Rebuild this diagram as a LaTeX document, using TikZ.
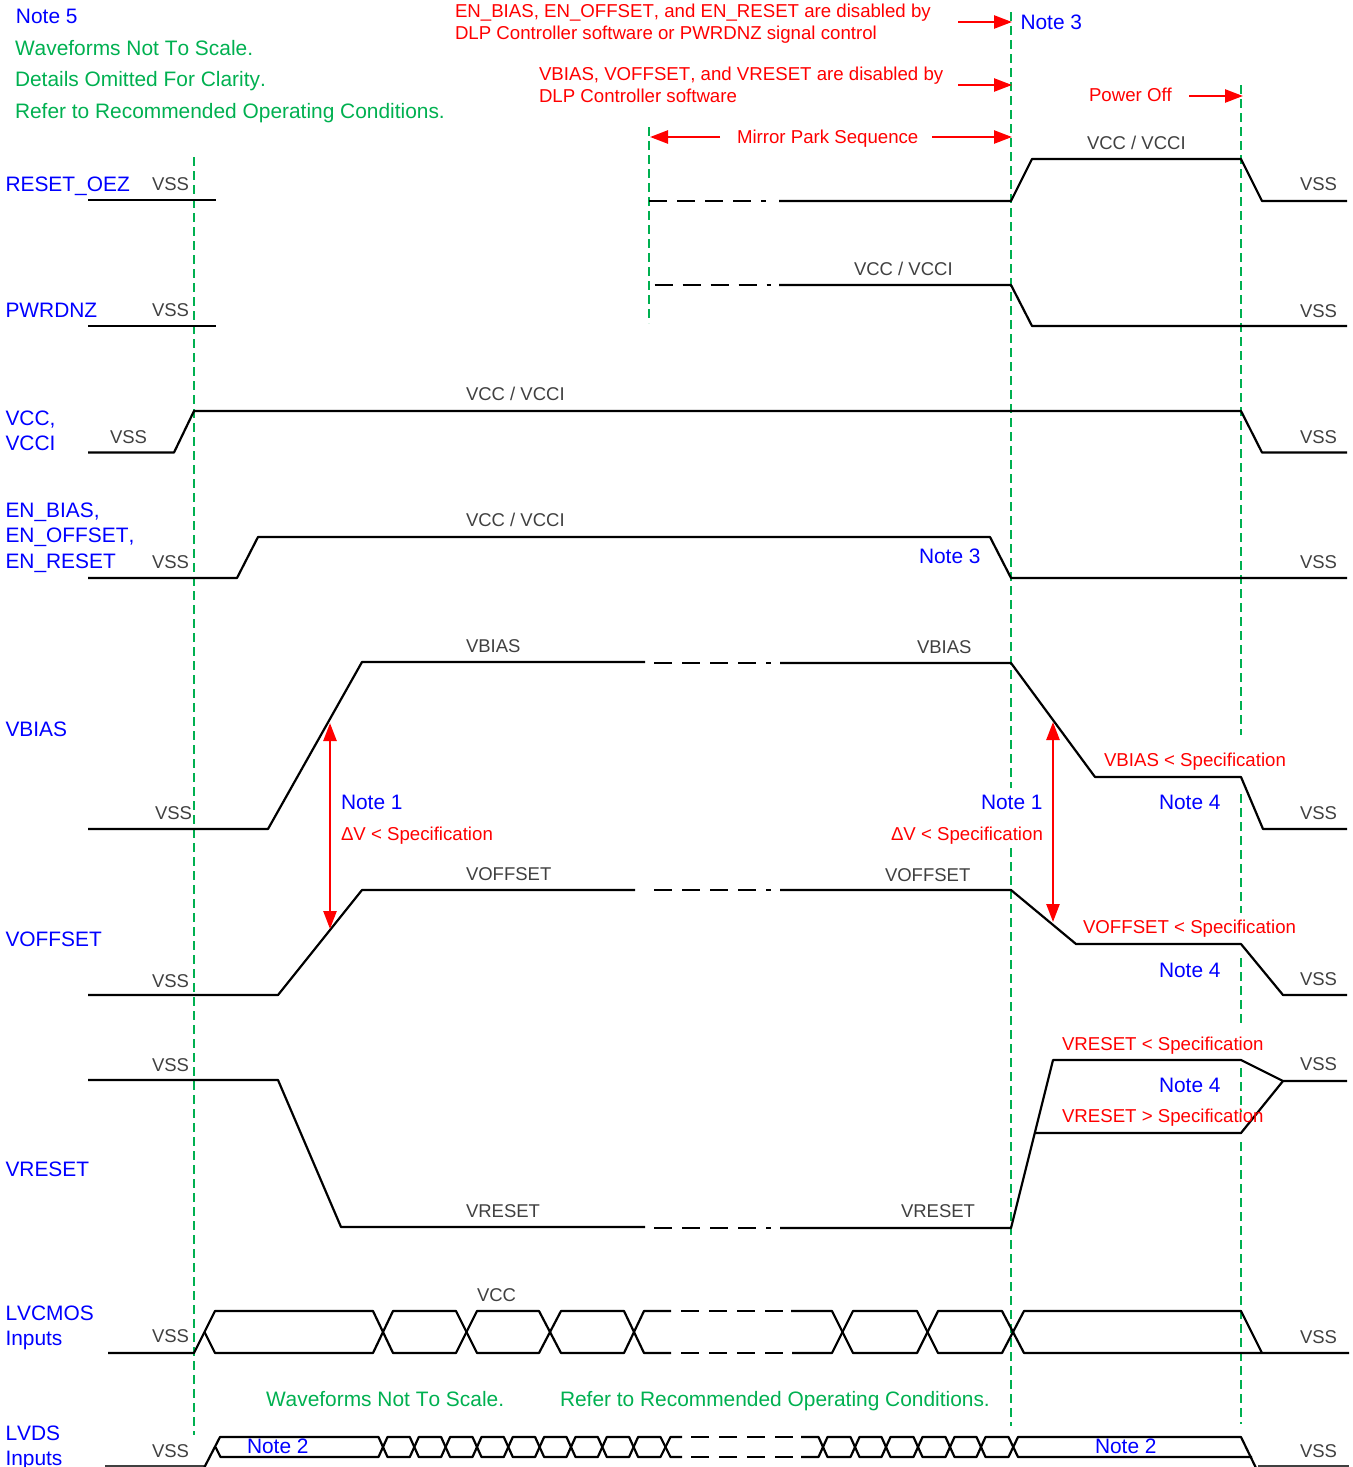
\documentclass[tikz,border=0pt]{standalone}
\usepackage{fontspec}
\setmainfont[Kerning=Off]{Liberation Sans}
\usetikzlibrary{arrows.meta}
\definecolor{tblue}{HTML}{0000FF}
\definecolor{tgreen}{HTML}{00B050}
\definecolor{tred}{HTML}{FF0000}
\definecolor{tgray}{HTML}{404040}
\tikzset{
  x=1pt,y=-1pt,
  lab/.style={anchor=base west,inner sep=0pt,outer sep=0pt},
  bluet/.style={lab,text=tblue,font=\fontsize{20.9}{24}\selectfont,yshift=-7.5pt},
  greent/.style={lab,text=tgreen,font=\fontsize{20.9}{24}\selectfont,yshift=-7.5pt},
  redt/.style={lab,text=tred,font=\fontsize{18.65}{22}\selectfont,yshift=-6.7pt},
  grayt/.style={lab,text=tgray,font=\fontsize{18.5}{22}\selectfont,yshift=-6.6pt},
  wave/.style={draw=black,line width=2.2pt,line join=round},
  wavedash/.style={wave,dash pattern=on 18.4pt off 9.6pt on 18.4pt off 9.6pt on 18.4pt off 9.6pt on 18.4pt off 9.6pt on 5pt off 200pt},
  cmosdash/.style={wave,dash pattern=on 18pt off 10pt},
  guide/.style={draw=tgreen,line width=2.3pt,dash pattern=on 9pt off 5pt},
  redarrow/.style={draw=tred,line width=2.5pt,-{Triangle[length=18pt,width=13pt]}},
  redboth/.style={draw=tred,line width=2.5pt,{Triangle[length=18pt,width=13pt]}-{Triangle[length=18pt,width=13pt]}},
}
\begin{document}
\begin{tikzpicture}
\useasboundingbox (0,0) rectangle (1352,1467);
\clip (0,0) rectangle (1352,1467);
% guide lines
\draw[guide] (194.3,157) -- (194.3,1435);
\draw[guide] (649.3,127) -- (649.3,323);
\draw[guide] (1011.3,12) -- (1011.3,788);
\draw[guide] (1011.3,848) -- (1011.3,1426);
\draw[guide] (1241.3,85) -- (1241.3,735);
\draw[guide] (1241.3,794) -- (1241.3,913);
\draw[guide] (1241.3,958) -- (1241.3,1023);
\draw[guide] (1241.3,1068) -- (1241.3,1112);
\draw[guide] (1241.3,1142) -- (1241.3,1424);
% RESET_OEZ
\draw[wave] (88,200) -- (216,200);
\draw[wavedash] (649,201) -- (766,201);
\draw[wave] (779,201) -- (1011,201) -- (1032,159) -- (1241,159) -- (1262,201) -- (1347,201);
% PWRDNZ
\draw[wave] (88,326) -- (216,326);
\draw[wavedash] (654.5,285) -- (771,285);
\draw[wave] (779,285) -- (1011,285) -- (1032,326) -- (1347,326);
% VCC
\draw[wave] (88,452.5) -- (174,452.5) -- (194,411) -- (1241,411) -- (1262,452.5) -- (1347,452.5);
% EN
\draw[wave] (88,578) -- (237,578) -- (258,537) -- (990,537) -- (1011,578) -- (1347,578);
% VBIAS
\draw[wave] (88,829) -- (268,829) -- (362,662) -- (645,662);
\draw[wavedash] (654,663) -- (771,663);
\draw[wave] (780,663) -- (1011,663) -- (1095,777) -- (1241,777) -- (1263,829) -- (1347,829);
% VOFFSET
\draw[wave] (88,995) -- (278,995) -- (362,890) -- (635,890);
\draw[wavedash] (654,890) -- (771,890);
\draw[wave] (780,890) -- (1011,890) -- (1076,944) -- (1241,944) -- (1283,995) -- (1347,995);
% VRESET
\draw[wave] (88,1080) -- (278,1080) -- (341,1227) -- (645,1227);
\draw[wavedash] (654,1228) -- (771,1228);
\draw[wave] (780,1228) -- (1011,1228) -- (1053,1060) -- (1241,1060) -- (1283,1081) -- (1347,1081);
\draw[wave] (1035,1133) -- (1241,1133) -- (1283,1081);
% LVCMOS
\draw[wave] (108,1353) -- (194,1353) -- (215,1311) -- (373,1311) -- (393,1353) -- (456,1353) -- (477,1311) -- (539,1311) -- (561,1353) -- (624,1353) -- (644,1311) -- (671,1311);
\draw[wave] (204.5,1332) -- (215,1353) -- (373,1353) -- (393,1311) -- (456,1311) -- (477,1353) -- (539,1353) -- (561,1311) -- (624,1311) -- (644,1353) -- (671,1353);
\draw[cmosdash] (681,1311) -- (783,1311);
\draw[cmosdash] (681,1353) -- (783,1353);
\draw[wave] (791,1311) -- (832,1311) -- (853,1353) -- (917,1353) -- (938,1311) -- (1002,1311) -- (1024,1353) -- (1262,1353) -- (1349,1353);
\draw[wave] (792,1353) -- (832,1353) -- (853,1311) -- (917,1311) -- (938,1353) -- (1002,1353) -- (1024,1311) -- (1241,1311) -- (1262,1353);
% LVDS
\draw[tgray,line width=1.2pt] (105,1466) -- (204,1466);
\draw[tgray,line width=1.2pt] (1258,1466) -- (1349,1466);
\draw[wave] (204,1468) -- (220,1437) -- (378.5,1437) -- (387.5,1457) -- (409.8,1457) -- (418.8,1437) -- (441.1,1437) -- (450.1,1457) -- (472.5,1457) -- (481.5,1437) -- (503.8,1437) -- (512.8,1457) -- (535.1,1457) -- (544.1,1437) -- (566.5,1437) -- (575.5,1457) -- (597.8,1457) -- (606.8,1437) -- (629.1,1437) -- (638.1,1457) -- (660.5,1457) -- (670.5,1437) -- (682,1437);
\draw[wave] (215.5,1447) -- (220.5,1457) -- (378.5,1457) -- (387.5,1437) -- (409.8,1437) -- (418.8,1457) -- (441.1,1457) -- (450.1,1437) -- (472.5,1437) -- (481.5,1457) -- (503.8,1457) -- (512.8,1437) -- (535.1,1437) -- (544.1,1457) -- (566.5,1457) -- (575.5,1437) -- (597.8,1437) -- (606.8,1457) -- (629.1,1457) -- (638.1,1437) -- (660.5,1437) -- (670.5,1457) -- (682,1457);
\draw[cmosdash] (691,1437) -- (793,1437);
\draw[cmosdash] (691,1457) -- (793,1457);
\draw[wave] (801,1437) -- (818.5,1437) -- (827.5,1457) -- (850.5,1457) -- (859.5,1437) -- (881.5,1437) -- (890.5,1457) -- (913.5,1457) -- (922.5,1437) -- (945.5,1437) -- (954.5,1457) -- (976.5,1457) -- (985.5,1437) -- (1008.5,1437) -- (1018,1457) -- (1252,1457);
\draw[wave] (801,1457) -- (818.5,1457) -- (827.5,1437) -- (850.5,1437) -- (859.5,1457) -- (881.5,1457) -- (890.5,1437) -- (913.5,1437) -- (922.5,1457) -- (945.5,1457) -- (954.5,1437) -- (976.5,1437) -- (985.5,1457) -- (1008.5,1457) -- (1018,1437) -- (1241,1437) -- (1256,1468);
% arrow ends
\coordinate (a1s) at (958,22); \coordinate (a1e) at (1012,22);
\coordinate (a2s) at (958,85); \coordinate (a2e) at (1012,85);
\coordinate (a3s) at (1189,96); \coordinate (a3e) at (1243,96);
\coordinate (a4s) at (720,137); \coordinate (a4e) at (650,137);
\coordinate (a5s) at (932,137); \coordinate (a5e) at (1012,137);
\coordinate (a6s) at (330,723); \coordinate (a6e) at (330,929);
\coordinate (a7s) at (1053,722); \coordinate (a7e) at (1053,922);
\draw[redarrow] (a1s) -- (a1e);
\draw[redarrow] (a2s) -- (a2e);
\draw[redarrow] (a3s) -- (a3e);
\draw[redarrow] (a4s) -- (a4e);
\draw[redarrow] (a5s) -- (a5e);
\draw[redboth] (a6s) -- (a6e);
\draw[redboth] (a7s) -- (a7e);
% blue labels
\node[bluet] (n5) at (16,16) {Note 5};
\node[bluet] (n3a) at (1020.5,22) {Note 3};
\node[bluet] (s1) at (5.5,184) {RESET\_OEZ};
\node[bluet] (s2) at (5.5,310) {PWRDNZ};
\node[bluet] (s3a) at (5.5,418) {VCC,};
\node[bluet] (s3b) at (5.5,443) {VCCI};
\node[bluet] (s4a) at (5.5,510) {EN\_BIAS,};
\node[bluet] (s4b) at (5.5,535) {EN\_OFFSET,};
\node[bluet] (s4c) at (5.5,561) {EN\_RESET};
\node[bluet] (n3b) at (919,556) {Note 3};
\node[bluet] (s5) at (5.5,729) {VBIAS};
\node[bluet] (n1a) at (341,802) {Note 1};
\node[bluet] (n1b) at (981,802) {Note 1};
\node[bluet] (n4a) at (1159,802) {Note 4};
\node[bluet] (s6) at (5.5,939) {VOFFSET};
\node[bluet] (n4b) at (1159,970) {Note 4};
\node[bluet] (n4c) at (1159,1085) {Note 4};
\node[bluet] (s7) at (5.5,1169) {VRESET};
\node[bluet] (s8a) at (5.5,1313) {LVCMOS};
\node[bluet] (s8b) at (5.5,1338) {Inputs};
\node[bluet] (s9a) at (5.5,1433) {LVDS};
\node[bluet] (s9b) at (5.5,1458) {Inputs};
\node[bluet] (n2a) at (247,1446) {Note 2};
\node[bluet] (n2b) at (1095,1446) {Note 2};
% green labels
\node[greent] (g1) at (15,48) {Waveforms Not To Scale.};
\node[greent] (g2) at (15,79) {Details Omitted For Clarity.};
\node[greent] (g3) at (15,111) {Refer to Recommended Operating Conditions.};
\node[greent] (g4) at (266,1399) {Waveforms Not To Scale.};
\node[greent] (g5) at (560,1399) {Refer to Recommended Operating Conditions.};
% red labels
\node[redt] (r1) at (455,11) {EN\_BIAS, EN\_OFFSET, and EN\_RESET are disabled by};
\node[redt] (r2) at (455,33) {DLP Controller software or PWRDNZ signal control};
\node[redt] (r3) at (539,74) {VBIAS, VOFFSET, and VRESET are disabled by};
\node[redt] (r4) at (539,96) {DLP Controller software};
\node[redt] (r5) at (1089,95) {Power Off};
\node[redt] (r6) at (737,137) {Mirror Park Sequence};
\node[redt] (r7) at (1104,760) {VBIAS < Specification};
\node[redt] (r8) at (341,834) {ΔV < Specification};
\node[redt] (r9) at (891,834) {ΔV < Specification};
\node[redt] (r10) at (1083,927) {VOFFSET < Specification};
\node[redt] (r11) at (1062,1044) {VRESET < Specification};
\node[redt] (r12) at (1062,1116) {VRESET > Specification};
% gray labels
\node[grayt] (v1) at (152,184) {VSS};
\node[grayt] (v2) at (152,310) {VSS};
\node[grayt] (v3) at (110,437) {VSS};
\node[grayt] (v4) at (152,562) {VSS};
\node[grayt] (v5) at (155,813) {VSS};
\node[grayt] (v6) at (152,981) {VSS};
\node[grayt] (v7) at (152,1065) {VSS};
\node[grayt] (v8) at (152,1336) {VSS};
\node[grayt] (v9) at (152,1451) {VSS};
\node[grayt] (w1) at (1300,184) {VSS};
\node[grayt] (w2) at (1300,311) {VSS};
\node[grayt] (w3) at (1300,437) {VSS};
\node[grayt] (w4) at (1300,562) {VSS};
\node[grayt] (w5) at (1300,813) {VSS};
\node[grayt] (w6) at (1300,979) {VSS};
\node[grayt] (w7) at (1300,1064) {VSS};
\node[grayt] (w8) at (1300,1337) {VSS};
\node[grayt] (w9) at (1300,1451) {VSS};
\node[grayt] (c1) at (1087,143) {VCC / VCCI};
\node[grayt] (c2) at (854,269) {VCC / VCCI};
\node[grayt] (c3) at (466,394) {VCC / VCCI};
\node[grayt] (c4) at (466,520) {VCC / VCCI};
\node[grayt] (b1) at (466,646) {VBIAS};
\node[grayt] (b2) at (917,647) {VBIAS};
\node[grayt] (o1) at (466,874) {VOFFSET};
\node[grayt] (o2) at (885,875) {VOFFSET};
\node[grayt] (x1) at (466,1211) {VRESET};
\node[grayt] (x2) at (901,1211) {VRESET};
\node[grayt] (c5) at (477,1295) {VCC};
\end{tikzpicture}
\end{document}
